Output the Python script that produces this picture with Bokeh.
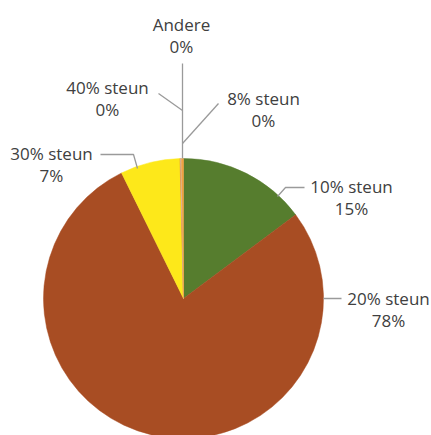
import math
from bokeh.plotting import figure
from bokeh.models import Range1d, ColumnDataSource
from bokeh.core.properties import value
from bokeh.embed import file_html
from bokeh.resources import INLINE

# data (clockwise from top)
categories = ["10% steun", "20% steun", "30% steun", "40% steun", "Andere", "8% steun"]
shares = [14.8, 78.0, 6.9, 0.08, 0.08, 0.24]
pct_labels = ["15%", "78%", "7%", "0%", "0%", "0%"]
colors = ["#567D2E", "#A84D23", "#FDE81A", "#E07A3A", "#C9C9C9", "#F0A040"]

R = 140
total = sum(shares)
starts, ends = [], []
cum = 0.0
for s in shares:
    starts.append(math.pi / 2 - 2 * math.pi * cum / total)
    cum += s
    ends.append(math.pi / 2 - 2 * math.pi * cum / total)

src = ColumnDataSource(dict(cat=categories, start=starts, end=ends, color=colors))

p = figure(width=431, height=435, output_backend="svg", toolbar_location=None,
           x_range=Range1d(-183, 248), y_range=Range1d(-137, 298),
           min_border=0, outline_line_color=None)
p.axis.visible = False
p.grid.visible = False
p.background_fill_color = "white"
p.border_fill_color = "white"

p.wedge(x=0, y=0, radius=R, start_angle="start", end_angle="end", direction="clock",
        fill_color="color", line_color="color", line_width=0.5, source=src)

# label layout (center-relative pixel positions of the two text lines)
label_x = [168, 205, -132, -76, -2, 80]
label_y1 = [112, 0, 145, 211, 274, 200]
label_dy = 22

# leader lines layout
leader_xs = [[121, 102, 94], [140, 158], [-83, -50, -46], [-25, -1], [-1, -1], [35, -1]]
leader_ys = [[111, 111, 102], [0, 0], [144, 144, 130], [205, 188], [235, 140], [195, 155]]
p.multi_line(xs=leader_xs, ys=leader_ys, line_color="#9A9A9A", line_width=1.3)

tsrc = ColumnDataSource(dict(
    x=label_x + label_x,
    y=label_y1 + [y - label_dy for y in label_y1],
    t=categories + pct_labels,
))
p.text(x="x", y="y", text="t", source=tsrc, text_align="center", text_baseline="middle",
       text_font=value("Open Sans"), text_font_size="17px", text_color="#404040")

open("out.html", "w").write(file_html(p, INLINE))
